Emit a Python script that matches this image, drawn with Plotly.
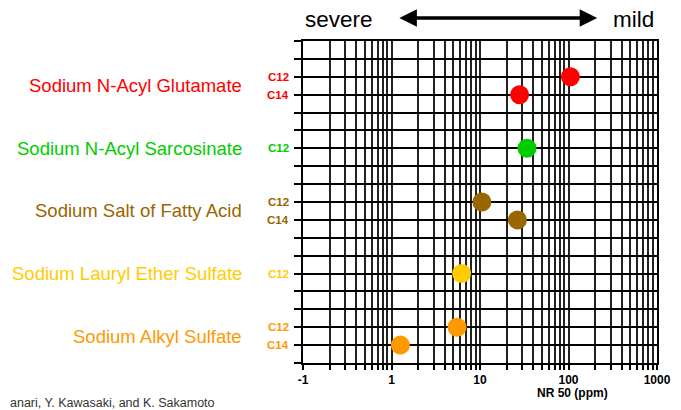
import plotly.graph_objects as go

# ---- data ----
groups = ["Sodium N-Acyl Glutamate", "Sodium N-Acyl Sarcosinate", "Sodium Salt of Fatty Acid",
          "Sodium Lauryl Ether Sulfate", "Sodium Alkyl Sulfate"]
group_colors = ["#FF0000", "#00CC00", "#996600", "#FFCC00", "#FF9900"]
group_rows = [2.5, 6, 9.5, 13, 16.5]

chains = ["C12", "C14", "C12", "C12", "C14", "C12", "C12", "C14"]
point_group = [0, 0, 1, 2, 2, 3, 4, 4]
point_rows = [2, 3, 6, 9, 10, 13, 16, 17]
nr50 = [105, 28, 34, 10.5, 26.5, 6.2, 5.5, 1.26]

decades = [0.1, 1, 10, 100, 1000]
decade_labels = ["-1", "1", "10", "100", "1000"]
n_rows = 18

FONT = "Liberation Sans, Arial, sans-serif"

# ticks: all log minor positions
tickvals, ticktext = [], []
for d in decades[:-1]:
    for m in range(1, 10):
        tickvals.append(d * m)
        ticktext.append(f"<b>{decade_labels[decades.index(d)]}</b>" if m == 1 else "")
tickvals.append(decades[-1])
ticktext.append(f"<b>{decade_labels[-1]}</b>")

fig = go.Figure()
fig.add_trace(go.Scatter(
    x=nr50, y=point_rows, mode="markers",
    marker=dict(size=19, color=[group_colors[g] for g in point_group], line=dict(width=0)),
    showlegend=False, hoverinfo="skip"))

annotations = []
for name, col, r in zip(groups, group_colors, group_rows):
    annotations.append(dict(text=name, x=-0.167, xref="paper", y=r, yref="y", xanchor="right",
                            yanchor="middle", showarrow=False,
                            font=dict(family=FONT, size=18.5, color=col)))
for c, g, r in zip(chains, point_group, point_rows):
    annotations.append(dict(text=f"<b>{c}</b>", x=-0.034, xref="paper", y=r, yref="y", xanchor="right",
                            yanchor="middle", showarrow=False,
                            font=dict(family=FONT, size=11.5, color=group_colors[g])))

# header
annotations.append(dict(text="severe", x=0.0, xref="paper", y=1.066, yref="paper", xanchor="left",
                        yanchor="middle", showarrow=False, font=dict(family=FONT, size=22.5, color="black")))
annotations.append(dict(text="mild", x=0.998, xref="paper", y=1.066, yref="paper", xanchor="right",
                        yanchor="middle", showarrow=False, font=dict(family=FONT, size=22.5, color="black")))
annotations.append(dict(text="", x=0.831, y=1.0714, xref="x domain", yref="y domain",
                        ax=0.268, ay=1.0714, axref="x domain", ayref="y domain",
                        showarrow=True, arrowhead=2, arrowside="end+start", arrowsize=1,
                        arrowwidth=3.5, arrowcolor="black"))
# axis title
annotations.append(dict(text="<b>NR 50 (ppm)</b>", x=0.76, xref="paper", y=-0.092, yref="paper",
                        xanchor="center", yanchor="middle", showarrow=False,
                        font=dict(family=FONT, size=12, color="black")))
# citation (cut off at left edge in the original)
annotations.append(dict(text="anari, Y. Kawasaki, and K. Sakamoto", x=-0.834, xref="paper", y=-0.123,
                        yref="paper", xanchor="left", yanchor="middle", showarrow=False,
                        font=dict(family=FONT, size=12.5, color="#333333")))

# the page body has an 8px margin, so the figure is sized/offset to compensate
fig.update_layout(
    width=673, height=402,
    margin=dict(l=295, r=24, t=33, b=47),
    paper_bgcolor="white", plot_bgcolor="white",
    annotations=annotations,
    xaxis=dict(type="log", range=[-1, 3], tickmode="array", tickvals=tickvals, ticktext=ticktext,
               ticks="outside", ticklen=5, tickcolor="black", tickwidth=1.5,
               showgrid=True, gridcolor="#222222", gridwidth=1.6,
               showline=True, linecolor="black", linewidth=2, mirror=True, automargin=False,
               tickfont=dict(family=FONT, size=12, color="black"), zeroline=False),
    yaxis=dict(range=[n_rows, 0], tickmode="array", tickvals=list(range(n_rows + 1)),
               ticktext=[""] * (n_rows + 1), automargin=False,
               ticks="outside", ticklen=7, tickcolor="black", tickwidth=1.5,
               showgrid=True, gridcolor="black", gridwidth=1.5,
               showline=True, linecolor="black", linewidth=2, mirror=True, zeroline=False),
)

fig.write_html("out.html")
